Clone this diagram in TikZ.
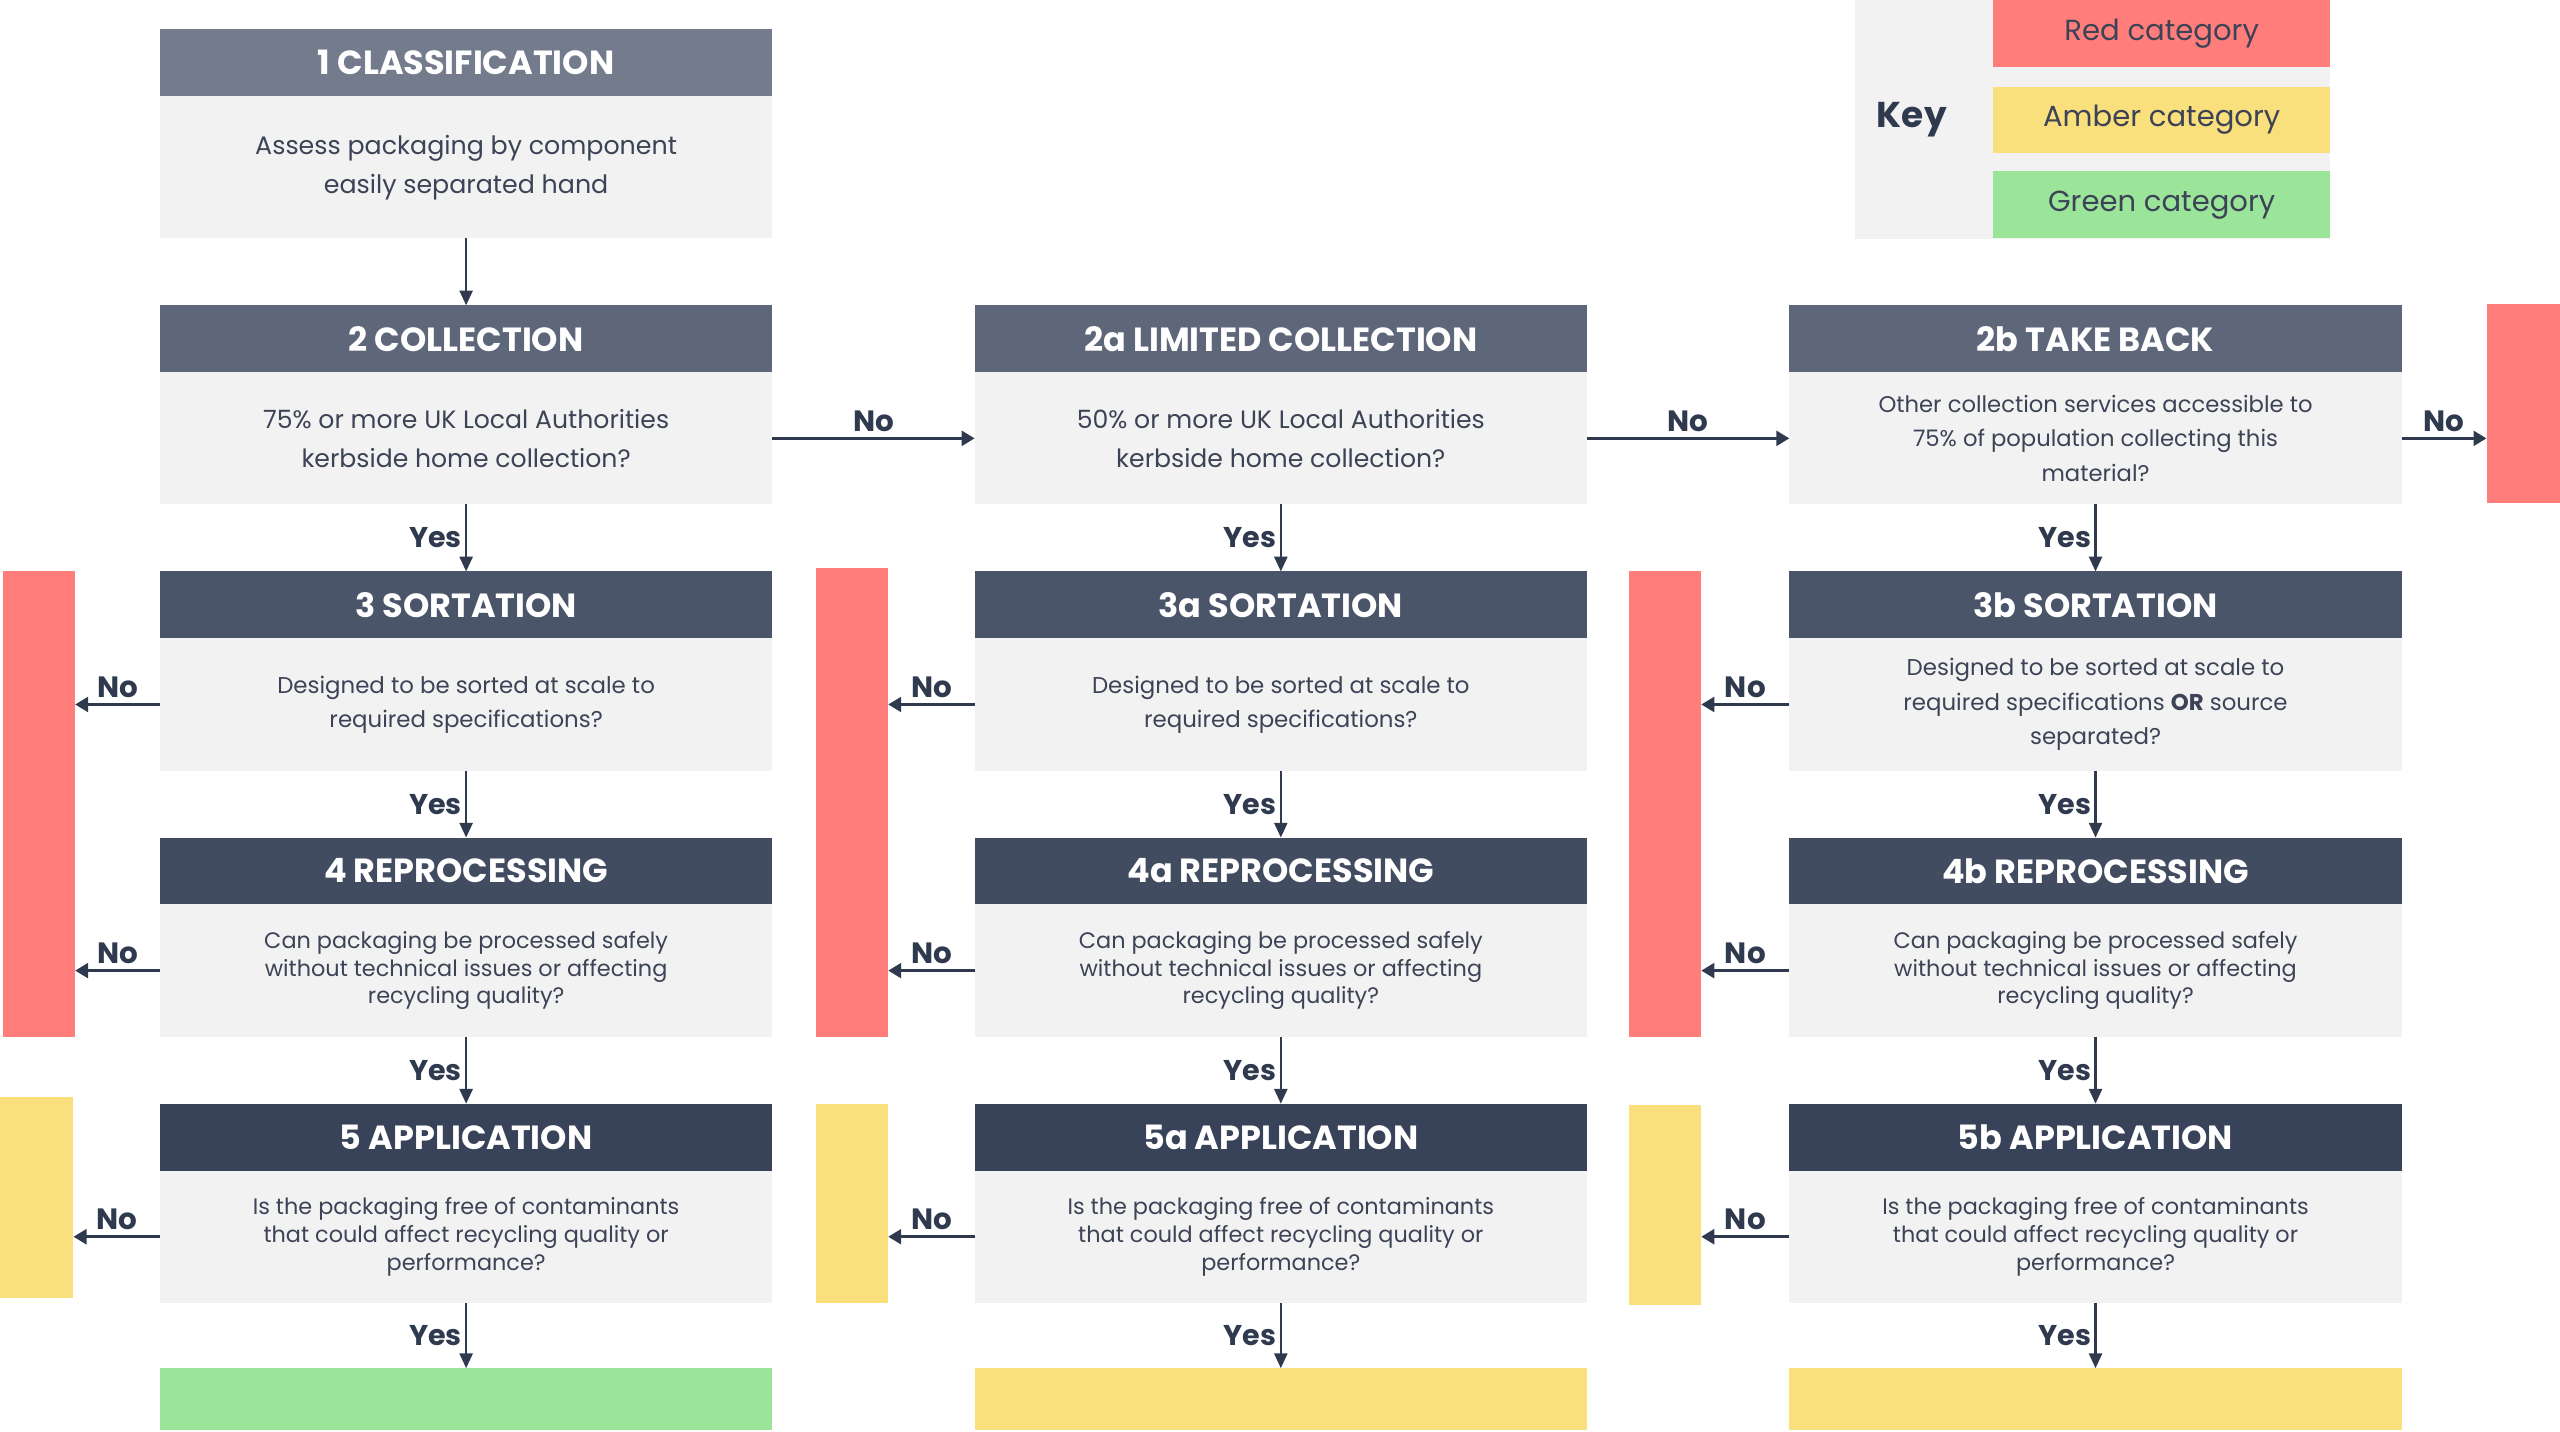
\documentclass[tikz,border=0pt]{standalone}
\usepackage{fontspec}
\setmainfont{Poppins}
\usetikzlibrary{positioning,arrows.meta,calc}
\definecolor{hdrone}{HTML}{737B8C}
\definecolor{hdrtwo}{HTML}{5E6779}
\definecolor{hdrthree}{HTML}{4B5569}
\definecolor{hdrfour}{HTML}{424C60}
\definecolor{hdrfive}{HTML}{384258}
\definecolor{bodygray}{HTML}{F2F2F2}
\definecolor{txtdark}{HTML}{3D4356}
\definecolor{navy}{HTML}{2F3A4F}
\definecolor{catred}{HTML}{FF7E7B}
\definecolor{catamber}{HTML}{FAE07C}
\definecolor{catgreen}{HTML}{9AE599}

\tikzset{
  hdr/.style={fill=#1, text=white, font=\bfseries\fontsize{20.5}{24}\selectfont,
    minimum width=375pt, minimum height=41pt, inner sep=0pt, outer sep=0pt},
  body/.style={fill=bodygray, text=txtdark, font=\fontsize{14}{21}\selectfont,
    minimum width=375pt, minimum height=81pt, inner sep=0pt, outer sep=0pt, align=center},
  tight/.style={font=\fontsize{13.7}{17}\selectfont},
  catbar/.style={minimum width=44pt, inner sep=0pt, outer sep=0pt, anchor=north west},
  resbar/.style={minimum width=375pt, minimum height=38pt, inner sep=0pt, outer sep=0pt},
  keybox/.style={minimum width=206pt, minimum height=41pt, inner sep=0pt, text=txtdark,
    font=\fontsize{17.8}{21}\selectfont},
  flow/.style={color=navy, line width=1.3pt, -{Triangle[width=8pt,length=9pt]}},
  noflow/.style={color=navy, line width=2pt, -{Triangle[width=9pt,length=8pt]}},
  yes/.style={left, inner sep=2pt, text=navy, font=\bfseries\fontsize{17.5}{20}\selectfont},
  nolbl/.style={above, inner sep=3pt, text=navy, font=\bfseries\fontsize{18}{20}\selectfont}
}

\begin{document}
\begin{tikzpicture}[x=1pt,y=1pt]
\useasboundingbox (0,0) rectangle (1568,-877);

% key
\node[fill=bodygray, minimum width=291pt, minimum height=146pt, inner sep=0pt, anchor=north west] (keybg) at (1136,0) {};
\node[text=navy, font=\bfseries\fontsize{22}{26}\selectfont] (key) at (1171,-73) {Key};
\node[keybox, fill=catred] (keyred) at (1324,-20.5) {Red category};
\node[keybox, fill=catamber] (keyamber) at (1324,-73.5) {Amber category};
\node[keybox, fill=catgreen] (keygreen) at (1324,-125.5) {Green category};

% steps 1 and 2
\node[hdr=hdrone, anchor=north] (classification) at (285.5,-18) {1 CLASSIFICATION};
\node[body, minimum height=87pt, font=\fontsize{15.5}{24}\selectfont, below=0pt of classification] (classificationq)
  {Assess packaging by component\\easily separated hand};
\node[hdr=hdrtwo, below=41pt of classificationq] (collection) {2 COLLECTION};
\node[body, font=\fontsize{15.4}{24}\selectfont, below=0pt of collection] (collectionq)
  {75\% or more UK Local Authorities\\kerbside home collection?};
\node[hdr=hdrtwo, right=124pt of collection] (limited) {2a LIMITED COLLECTION};
\node[body, font=\fontsize{15.4}{24}\selectfont, below=0pt of limited] (limitedq)
  {50\% or more UK Local Authorities\\kerbside home collection?};
\node[hdr=hdrtwo, right=124pt of limited] (takeback) {2b TAKE BACK};
\node[body, font=\fontsize{13.9}{21}\selectfont, below=0pt of takeback] (takebackq)
  {Other collection services accessible to\\75\% of population collecting this\\material?};

% step 3
\node[hdr=hdrthree, below=41pt of collectionq] (sort) {3 SORTATION};
\node[body, below=0pt of sort] (sortq) {Designed to be sorted at scale to\\required specifications?};
\node[hdr=hdrthree, below=41pt of limitedq] (sorta) {3a SORTATION};
\node[body, below=0pt of sorta] (sortaq) {Designed to be sorted at scale to\\required specifications?};
\node[hdr=hdrthree, below=41pt of takebackq] (sortb) {3b SORTATION};
\node[body, below=0pt of sortb] (sortbq) {Designed to be sorted at scale to\\required specifications \textbf{OR} source\\separated?};

% step 4
\node[hdr=hdrfour, below=41pt of sortq] (reproc) {4 REPROCESSING};
\node[body, tight, below=0pt of reproc] (reprocq) {Can packaging be processed safely\\without technical issues or affecting\\recycling quality?};
\node[hdr=hdrfour, below=41pt of sortaq] (reproca) {4a REPROCESSING};
\node[body, tight, below=0pt of reproca] (reprocaq) {Can packaging be processed safely\\without technical issues or affecting\\recycling quality?};
\node[hdr=hdrfour, below=41pt of sortbq] (reprocb) {4b REPROCESSING};
\node[body, tight, below=0pt of reprocb] (reprocbq) {Can packaging be processed safely\\without technical issues or affecting\\recycling quality?};

% step 5
\node[hdr=hdrfive, below=41pt of reprocq] (appl) {5 APPLICATION};
\node[body, tight, below=0pt of appl] (applq) {Is the packaging free of contaminants\\that could affect recycling quality or\\performance?};
\node[hdr=hdrfive, below=41pt of reprocaq] (appla) {5a APPLICATION};
\node[body, tight, below=0pt of appla] (applaq) {Is the packaging free of contaminants\\that could affect recycling quality or\\performance?};
\node[hdr=hdrfive, below=41pt of reprocbq] (applb) {5b APPLICATION};
\node[body, tight, below=0pt of applb] (applbq) {Is the packaging free of contaminants\\that could affect recycling quality or\\performance?};

% outcomes
\node[resbar, fill=catgreen, below=40pt of applq] (resgreen) {};
\node[resbar, fill=catamber, below=40pt of applaq] (resambera) {};
\node[resbar, fill=catamber, below=40pt of applbq] (resamberb) {};
\node[catbar, fill=catred, minimum width=45pt, minimum height=122pt] (redtake) at (1523,-186) {};
\node[catbar, fill=catred, minimum height=285pt] (redone) at (2,-350) {};
\node[catbar, fill=catred, minimum height=287pt] (redtwo) at (500,-348) {};
\node[catbar, fill=catred, minimum height=285pt] (redthree) at (998,-350) {};
\node[catbar, fill=catamber, minimum width=45pt, minimum height=123pt] (amberone) at (0,-672) {};
\node[catbar, fill=catamber, minimum height=122pt] (ambertwo) at (500,-676) {};
\node[catbar, fill=catamber, minimum height=122pt] (amberthree) at (998,-677) {};

% yes
\path[flow] (classificationq) edge (collection)
  (collectionq) edge node[yes]{Yes} (sort)
  (limitedq) edge node[yes]{Yes} (sorta)
  (takebackq) edge node[yes]{Yes} (sortb)
  (sortq) edge node[yes]{Yes} (reproc)
  (sortaq) edge node[yes]{Yes} (reproca)
  (sortbq) edge node[yes]{Yes} (reprocb)
  (reprocq) edge node[yes]{Yes} (appl)
  (reprocaq) edge node[yes]{Yes} (appla)
  (reprocbq) edge node[yes]{Yes} (applb)
  (applq) edge node[yes]{Yes} (resgreen)
  (applaq) edge node[yes]{Yes} (resambera)
  (applbq) edge node[yes]{Yes} (resamberb);

% no
\path[noflow] (collectionq) edge node[nolbl]{No} (limitedq)
  (limitedq) edge node[nolbl]{No} (takebackq)
  (takebackq.east) edge node[nolbl]{No} (takebackq.east -| redtake.west)
  (sortq.west) edge node[nolbl]{No} (sortq.west -| redone.east)
  (sortaq.west) edge node[nolbl]{No} (sortaq.west -| redtwo.east)
  (sortbq.west) edge node[nolbl]{No} (sortbq.west -| redthree.east)
  (reprocq.west) edge node[nolbl]{No} (reprocq.west -| redone.east)
  (reprocaq.west) edge node[nolbl]{No} (reprocaq.west -| redtwo.east)
  (reprocbq.west) edge node[nolbl]{No} (reprocbq.west -| redthree.east)
  (applq.west) edge node[nolbl]{No} (applq.west -| amberone.east)
  (applaq.west) edge node[nolbl]{No} (applaq.west -| ambertwo.east)
  (applbq.west) edge node[nolbl]{No} (applbq.west -| amberthree.east);
\end{tikzpicture}
\end{document}
